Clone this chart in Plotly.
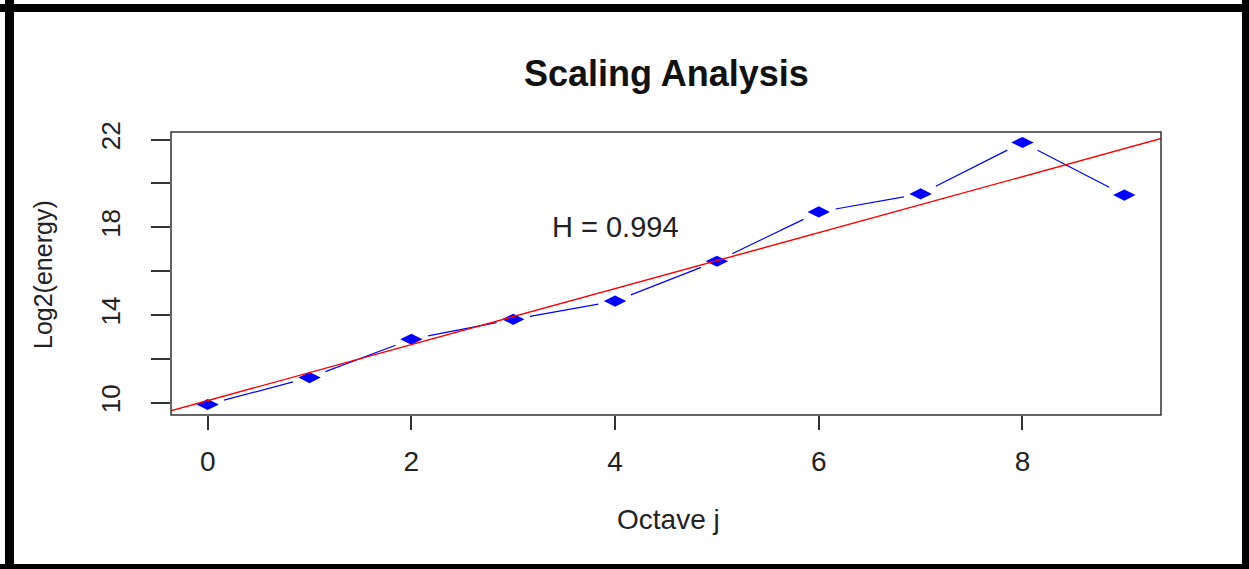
import numpy as np
import plotly.graph_objects as go

# ---- data ----
octave = [0, 1, 2, 3, 4, 5, 6, 7, 8, 9]
log2_energy = [9.91, 11.14, 12.89, 13.80, 14.63, 16.45, 18.70, 19.52, 21.87, 19.47]
x_tick_vals = [0, 2, 4, 6, 8]
x_tick_text = ["0", "2", "4", "6", "8"]
y_tick_vals = [10, 12, 14, 16, 18, 20, 22]
y_tick_text = ["10", "", "14", "", "18", "", "22"]
h_label = "H = 0.994"
h_pos = (4, 18)

# ---- layout constants ----
W, H = 1249, 569
L, R, T, B = 171, 88, 132, 154
PW, PH = W - L - R, H - T - B

x = np.array(octave, float)
y = np.array(log2_energy, float)

def expand(a, f=0.04):
    lo, hi = float(np.min(a)), float(np.max(a))
    d = (hi - lo) * f
    return [lo - d, hi + d]

xr = expand(x)
yr = expand(y)
sx = PW / (xr[1] - xr[0])
sy = PH / (yr[1] - yr[0])

# blue line segments with gaps (R type = "b")
gap = 17.0
seg_x, seg_y = [], []
for i in range(len(x) - 1):
    dxp = (x[i + 1] - x[i]) * sx
    dyp = (y[i + 1] - y[i]) * sy
    dist = np.hypot(dxp, dyp)
    if dist <= 2 * gap:
        continue
    f = gap / dist
    x0 = x[i] + (x[i + 1] - x[i]) * f
    y0 = y[i] + (y[i + 1] - y[i]) * f
    x1 = x[i + 1] - (x[i + 1] - x[i]) * f
    y1 = y[i + 1] - (y[i + 1] - y[i]) * f
    seg_x += [x0, x1, None]
    seg_y += [y0, y1, None]

# regression line (abline)
slope, intercept = np.polyfit(x, y, 1)
lx = np.array([xr[0] - 1, xr[1] + 1])
ly = intercept + slope * lx

FONT = "Liberation Sans, Arial, sans-serif"
fig = go.Figure()
fig.add_trace(go.Scatter(x=seg_x, y=seg_y, mode="lines",
                         line=dict(color="#0000FF", width=1.2),
                         hoverinfo="skip", showlegend=False))
fig.add_trace(go.Scatter(x=octave, y=log2_energy, mode="markers",
                         marker=dict(symbol="diamond-wide", size=16, color="#0000FF",
                                     line=dict(width=0)),
                         showlegend=False))
fig.add_trace(go.Scatter(x=lx, y=ly, mode="lines",
                         line=dict(color="#FF0000", width=1.4),
                         hoverinfo="skip", showlegend=False))

def pxx(p):
    return (p - L) / PW

def pxy(p):
    return (H - B - p) / PH

annotations = [
    dict(text="<b>Scaling Analysis</b>", x=pxx(666), y=pxy(73), xref="paper", yref="paper",
         xanchor="center", yanchor="middle", showarrow=False,
         font=dict(family=FONT, size=36, color="#111111")),
    dict(text="Octave j", x=pxx(668), y=pxy(519), xref="paper", yref="paper",
         xanchor="center", yanchor="middle", showarrow=False,
         font=dict(family=FONT, size=28, color="#222222")),
    dict(text="Log2(energy)", x=pxx(43), y=pxy(275), xref="paper", yref="paper",
         xanchor="center", yanchor="middle", showarrow=False, textangle=-90,
         font=dict(family=FONT, size=25, color="#222222")),
    dict(text=h_label, x=h_pos[0], y=h_pos[1], xref="x", yref="y",
         xanchor="center", yanchor="middle", showarrow=False,
         font=dict(family=FONT, size=29, color="#222222")),
]

shapes = [
    # plot box
    dict(type="rect", xref="paper", yref="paper", x0=0, x1=1, y0=0, y1=1,
         line=dict(color="#333333", width=1.5), layer="above"),
]
# outer black frame
for (a, b, c, d) in [(5, 0, 14, 569), (0, 4, 1249, 12), (1242, 0, 1249, 569), (0, 564, 1249, 569)]:
    shapes.append(dict(type="rect", xref="paper", yref="paper",
                       x0=pxx(a), x1=pxx(c), y0=pxy(d), y1=pxy(b),
                       fillcolor="#000000", line=dict(width=0), layer="above"))

fig.update_layout(
    width=W, height=H,
    margin=dict(l=L, r=R, t=T, b=B, autoexpand=False),
    paper_bgcolor="white", plot_bgcolor="white",
    annotations=annotations, shapes=shapes,
    showlegend=False,
    xaxis=dict(range=xr, tickvals=x_tick_vals, ticktext=x_tick_text,
               ticks="outside", ticklen=14, tickwidth=1.5, tickcolor="#333333",
               showgrid=False, zeroline=False, showline=False,
               ticklabelstandoff=7,
               tickfont=dict(family=FONT, size=28, color="#222222")),
    yaxis=dict(range=yr, tickvals=y_tick_vals, ticktext=y_tick_text,
               ticks="outside", ticklen=19, tickwidth=1.5, tickcolor="#333333",
               showgrid=False, zeroline=False, showline=False,
               tickangle=-90, ticklabelstandoff=21,
               tickfont=dict(family=FONT, size=26, color="#222222")),
)

fig.write_html("out.html")
